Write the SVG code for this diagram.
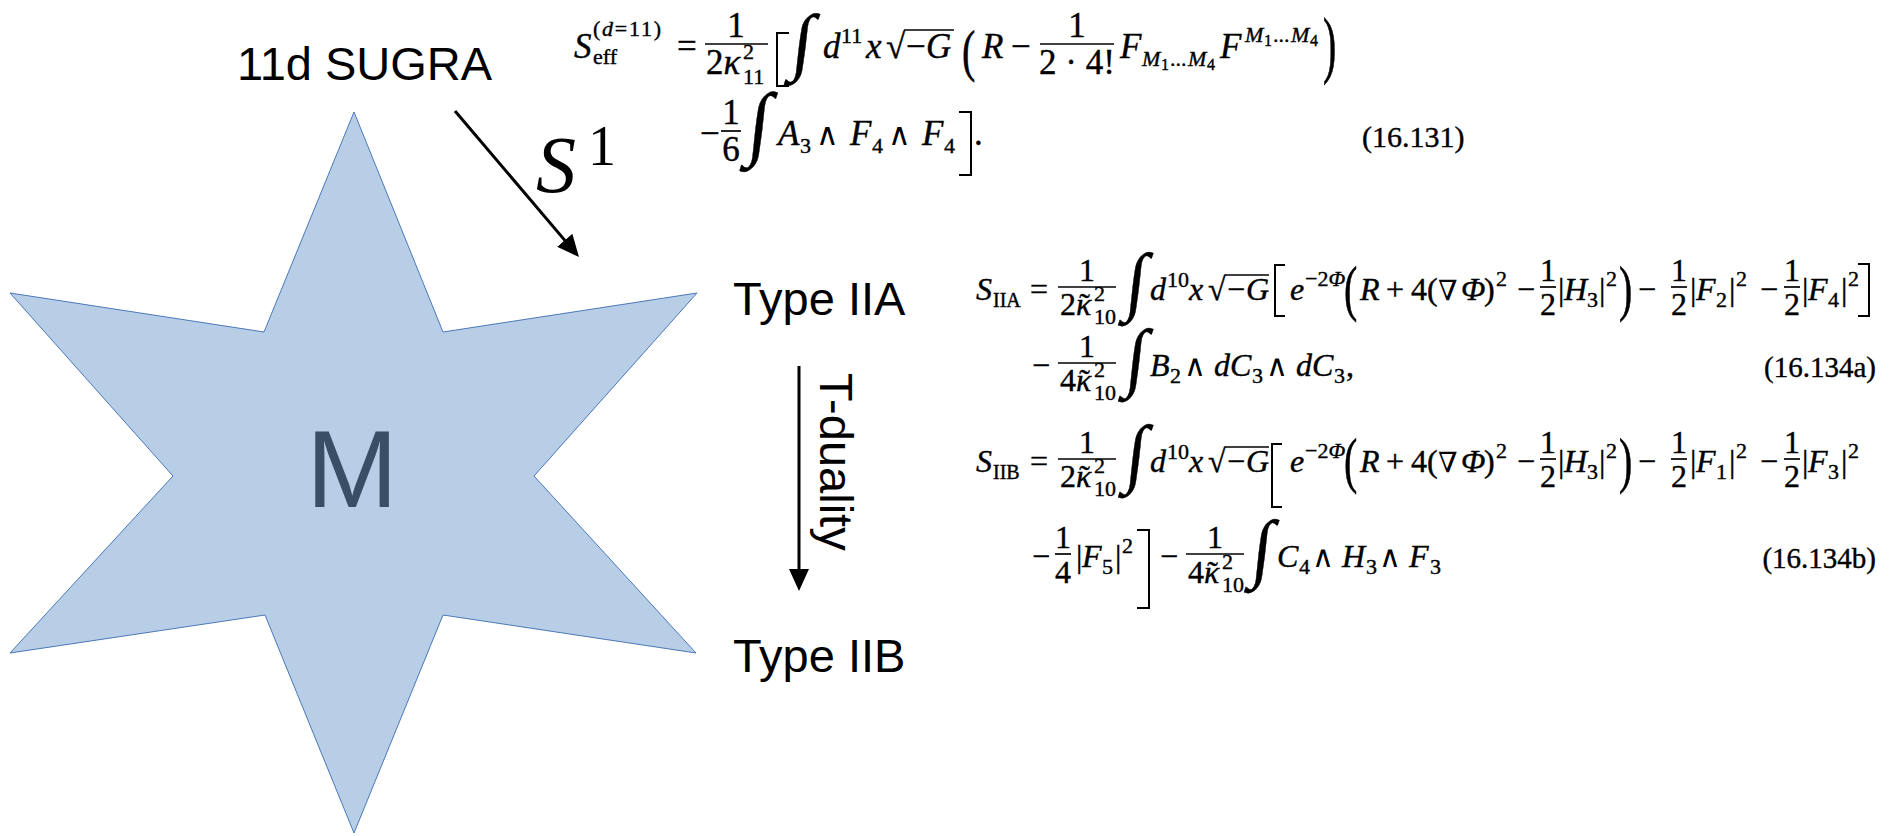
<svg xmlns="http://www.w3.org/2000/svg" width="1894" height="836" viewBox="0 0 1894 836">
<defs>
<style>
.lbl{font-family:"Liberation Sans",Arial,sans-serif;fill:#000}
.m{font-family:"Liberation Serif","Times New Roman","DejaVu Serif",serif;fill:#000;stroke:#000;stroke-width:0.4px}
.i{font-style:italic}
.sy{font-family:"DejaVu Serif","Liberation Serif",serif;fill:#000}
.bar{stroke:#000;stroke-width:1.7;fill:none}
.br{stroke:#000;stroke-width:2;fill:none}
.arr{stroke:#000;stroke-width:3;fill:none;marker-end:url(#ah)}
</style>
<marker id="ah" viewBox="0 0 22 20" refX="12" refY="10" markerWidth="22" markerHeight="20" markerUnits="userSpaceOnUse" orient="auto"><path d="M0,0 L22,10 L0,20 z" fill="#000"/></marker>
</defs>
<rect width="1894" height="836" fill="#fff"/>

<g id="node-m">
<polygon points="354,112 443,332 697,293 534,476 696,653 443,615 354,833 265,615 10,653 173,476 10,293 264,332" fill="#b8cee7" stroke="#4a78b8" stroke-width="1"/>
<text class="lbl" x="352" y="507" font-size="110" text-anchor="middle" style="fill:#3a4e66">M</text>
</g>
<g id="node-sugra"><text class="lbl" x="237" y="80" font-size="47">11d SUGRA</text></g>
<g id="node-iia"><text class="lbl" x="733" y="315" font-size="47">Type IIA</text></g>
<g id="node-iib"><text class="lbl" x="733" y="672" font-size="47">Type IIB</text></g>

<g id="connectors">
<line class="arr" x1="455" y1="111" x2="572.5" y2="249.4"/>
<line class="arr" x1="799" y1="366" x2="799" y2="581"/>
<text class="m i" x="536" y="192" font-size="80" style="stroke-width:0">S</text>
<text class="m" x="588" y="165" font-size="56" style="stroke-width:0">1</text>
<text class="lbl" x="820" y="373" font-size="47" transform="rotate(90 820 373)">T-duality</text>
</g>

<!-- Equation 16.131 -->
<g id="eq-11d" font-size="35">
<text class="m i" x="574" y="58">S</text>
<text class="m" x="593" y="36" font-size="22" textLength="68">(<tspan font-style="italic">d</tspan>=11)</text>
<text class="m" x="593" y="64" font-size="22">eff</text>
<text class="m" x="677" y="58">=</text>
<text class="m" x="736" y="37" text-anchor="middle">1</text>
<line class="bar" x1="705" y1="44" x2="768" y2="44"/>
<text class="m" x="706" y="74">2<tspan font-style="italic">κ</tspan></text>
<text class="m" x="743" y="59" font-size="22">2</text>
<text class="m" x="743" y="84" font-size="22">11</text>
<polyline class="br" points="789,33 777,33 777,86 789,86"/>
<text class="m" font-size="74" transform="matrix(1,0,-0.12,1,790,66)">∫</text>
<text class="m i" x="823" y="58">d</text>
<text class="m" x="841" y="43" font-size="22">11</text>
<text class="m i" x="866" y="58">x</text>
<text class="m" x="886" y="58">√</text>
<line class="bar" x1="904" y1="30" x2="954" y2="30"/>
<text class="m" x="906" y="58">−</text>
<text class="m i" x="926" y="58">G</text>
<text class="m" font-size="40" transform="matrix(1,0,0,1.437,962,69.7)">(</text>
<text class="m i" x="982" y="58">R</text>
<text class="m" x="1011" y="58">−</text>
<text class="m" x="1077" y="37" text-anchor="middle">1</text>
<line class="bar" x1="1040" y1="44" x2="1114" y2="44"/>
<text class="m" x="1077" y="74" text-anchor="middle">2 · 4!</text>
<text class="m i" x="1120" y="58">F</text>
<text class="m i" x="1142" y="66" font-size="22">M</text>
<text class="m" x="1161" y="70" font-size="16">1</text>
<text class="m" x="1170" y="66" font-size="22">...</text>
<text class="m i" x="1188" y="66" font-size="22">M</text>
<text class="m" x="1207" y="70" font-size="16">4</text>
<text class="m i" x="1220" y="58">F</text>
<text class="m i" x="1245" y="42" font-size="22">M</text>
<text class="m" x="1264" y="46" font-size="16">1</text>
<text class="m" x="1273" y="42" font-size="22">...</text>
<text class="m i" x="1291" y="42" font-size="22">M</text>
<text class="m" x="1310" y="46" font-size="16">4</text>
<text class="m" font-size="40" transform="matrix(1,0,0,1.84,1323,68.8)">)</text>
<text class="m" x="700" y="145">−</text>
<text class="m" x="731" y="124" text-anchor="middle">1</text>
<line class="bar" x1="721" y1="131" x2="741" y2="131"/>
<text class="m" x="731" y="161" text-anchor="middle">6</text>
<text class="m" font-size="78" transform="matrix(1,0,-0.12,1.05,746,150)">∫</text>
<text class="m i" x="778" y="145">A</text>
<text class="m" x="800" y="153" font-size="22">3</text>
<text class="sy" x="816" y="145" font-size="31">∧</text>
<text class="m i" x="850" y="145">F</text>
<text class="m" x="872" y="153" font-size="22">4</text>
<text class="sy" x="888" y="145" font-size="31">∧</text>
<text class="m i" x="922" y="145">F</text>
<text class="m" x="944" y="153" font-size="22">4</text>
<polyline class="br" points="959,112 971,112 971,175 959,175"/>
<text class="m" x="974" y="145">.</text>
<text class="m" x="1362" y="147" font-size="30">(16.131)</text>
</g>

<!-- Equation 16.134a -->
<g id="eq-iia" font-size="32">
<text class="m i" x="976" y="300">S</text>
<text class="m" x="993" y="307" font-size="20">IIA</text>
<text class="m" x="1030" y="300">=</text>
<text class="m" x="1087" y="281" text-anchor="middle">1</text>
<line class="bar" x1="1058" y1="287" x2="1116" y2="287"/>
<text class="m" x="1060" y="315">2<tspan font-style="italic">κ</tspan><tspan dx="-12">˜</tspan></text>
<text class="m" x="1094" y="301" font-size="22">2</text>
<text class="m" x="1094" y="324" font-size="22">10</text>
<text class="m" font-size="72" transform="matrix(1,0,-0.12,1.05,1124,306)">∫</text>
<text class="m i" x="1150" y="300">d</text>
<text class="m" x="1167" y="287" font-size="22">10</text>
<text class="m i" x="1189" y="300">x</text>
<text class="m" x="1208" y="300">√</text>
<line class="bar" x1="1225" y1="275" x2="1269" y2="275"/>
<text class="m" x="1227" y="300">−</text>
<text class="m i" x="1246" y="300">G</text>
<polyline class="br" points="1285,265 1275,265 1275,316 1285,316"/>
<text class="m i" x="1290" y="300">e</text>
<text class="m" x="1305" y="286" font-size="22">−2<tspan font-style="italic">Φ</tspan></text>
<text class="m" font-size="40" transform="matrix(1,0,0,1.552,1344,308.8)">(</text>
<text class="m i" x="1360" y="300">R</text>
<text class="m" x="1386" y="300">+</text>
<text class="m" x="1411" y="300">4(</text>
<text class="sy" x="1438" y="300" font-size="28">∇</text>
<text class="m i" x="1461" y="300">Φ</text>
<text class="m" x="1484" y="300">)</text>
<text class="m" x="1496" y="286" font-size="22">2</text>
<text class="m" x="1517" y="300">−</text>
<text class="m" x="1548" y="281" text-anchor="middle">1</text>
<line class="bar" x1="1540" y1="287" x2="1556" y2="287"/>
<text class="m" x="1548" y="315" text-anchor="middle">2</text>
<text class="m" x="1558" y="300">|</text>
<text class="m i" x="1564" y="300">H</text>
<text class="m" x="1587" y="307" font-size="22">3</text>
<text class="m" x="1599" y="300">|</text>
<text class="m" x="1606" y="286" font-size="22">2</text>
<text class="m" font-size="40" transform="matrix(1,0,0,1.552,1619,308.8)">)</text>
<text class="m" x="1638" y="300">−</text>
<text class="m" x="1679" y="281" text-anchor="middle">1</text>
<line class="bar" x1="1671" y1="287" x2="1687" y2="287"/>
<text class="m" x="1679" y="315" text-anchor="middle">2</text>
<text class="m" x="1690" y="300">|</text>
<text class="m i" x="1696" y="300">F</text>
<text class="m" x="1716" y="307" font-size="22">2</text>
<text class="m" x="1729" y="300">|</text>
<text class="m" x="1736" y="286" font-size="22">2</text>
<text class="m" x="1760" y="300">−</text>
<text class="m" x="1792" y="281" text-anchor="middle">1</text>
<line class="bar" x1="1784" y1="287" x2="1800" y2="287"/>
<text class="m" x="1792" y="315" text-anchor="middle">2</text>
<text class="m" x="1802" y="300">|</text>
<text class="m i" x="1808" y="300">F</text>
<text class="m" x="1828" y="307" font-size="22">4</text>
<text class="m" x="1841" y="300">|</text>
<text class="m" x="1848" y="286" font-size="22">2</text>
<polyline class="br" points="1858,264 1869,264 1869,316 1858,316"/>
<text class="m" x="1032" y="376">−</text>
<text class="m" x="1087" y="357" text-anchor="middle">1</text>
<line class="bar" x1="1058" y1="363" x2="1116" y2="363"/>
<text class="m" x="1060" y="391">4<tspan font-style="italic">κ</tspan><tspan dx="-12">˜</tspan></text>
<text class="m" x="1094" y="377" font-size="22">2</text>
<text class="m" x="1094" y="400" font-size="22">10</text>
<text class="m" font-size="72" transform="matrix(1,0,-0.12,1.05,1124,382)">∫</text>
<text class="m i" x="1150" y="376">B</text>
<text class="m" x="1170" y="383" font-size="22">2</text>
<text class="sy" x="1184" y="376" font-size="30">∧</text>
<text class="m i" x="1214" y="376">d</text>
<text class="m i" x="1230" y="376">C</text>
<text class="m" x="1252" y="383" font-size="22">3</text>
<text class="sy" x="1266" y="376" font-size="30">∧</text>
<text class="m i" x="1296" y="376">d</text>
<text class="m i" x="1312" y="376">C</text>
<text class="m" x="1334" y="383" font-size="22">3</text>
<text class="m" x="1346" y="376">,</text>
<text class="m" x="1876" y="377" font-size="29" text-anchor="end">(16.134a)</text>
</g>

<!-- Equation 16.134b -->
<g id="eq-iib" font-size="32">
<text class="m i" x="976" y="472">S</text>
<text class="m" x="993" y="479" font-size="20">IIB</text>
<text class="m" x="1030" y="472">=</text>
<text class="m" x="1087" y="453" text-anchor="middle">1</text>
<line class="bar" x1="1058" y1="459" x2="1116" y2="459"/>
<text class="m" x="1060" y="487">2<tspan font-style="italic">κ</tspan><tspan dx="-12">˜</tspan></text>
<text class="m" x="1094" y="473" font-size="22">2</text>
<text class="m" x="1094" y="496" font-size="22">10</text>
<text class="m" font-size="72" transform="matrix(1,0,-0.12,1.05,1124,478)">∫</text>
<text class="m i" x="1150" y="472">d</text>
<text class="m" x="1167" y="459" font-size="22">10</text>
<text class="m i" x="1189" y="472">x</text>
<text class="m" x="1208" y="472">√</text>
<line class="bar" x1="1225" y1="447" x2="1269" y2="447"/>
<text class="m" x="1227" y="472">−</text>
<text class="m i" x="1246" y="472">G</text>
<polyline class="br" points="1282,444 1272,444 1272,507 1282,507"/>
<text class="m i" x="1290" y="472">e</text>
<text class="m" x="1305" y="458" font-size="22">−2<tspan font-style="italic">Φ</tspan></text>
<text class="m" font-size="40" transform="matrix(1,0,0,1.552,1344,480.8)">(</text>
<text class="m i" x="1360" y="472">R</text>
<text class="m" x="1386" y="472">+</text>
<text class="m" x="1411" y="472">4(</text>
<text class="sy" x="1438" y="472" font-size="28">∇</text>
<text class="m i" x="1461" y="472">Φ</text>
<text class="m" x="1484" y="472">)</text>
<text class="m" x="1496" y="458" font-size="22">2</text>
<text class="m" x="1517" y="472">−</text>
<text class="m" x="1548" y="453" text-anchor="middle">1</text>
<line class="bar" x1="1540" y1="459" x2="1556" y2="459"/>
<text class="m" x="1548" y="487" text-anchor="middle">2</text>
<text class="m" x="1558" y="472">|</text>
<text class="m i" x="1564" y="472">H</text>
<text class="m" x="1587" y="479" font-size="22">3</text>
<text class="m" x="1599" y="472">|</text>
<text class="m" x="1606" y="458" font-size="22">2</text>
<text class="m" font-size="40" transform="matrix(1,0,0,1.552,1619,480.8)">)</text>
<text class="m" x="1638" y="472">−</text>
<text class="m" x="1679" y="453" text-anchor="middle">1</text>
<line class="bar" x1="1671" y1="459" x2="1687" y2="459"/>
<text class="m" x="1679" y="487" text-anchor="middle">2</text>
<text class="m" x="1690" y="472">|</text>
<text class="m i" x="1696" y="472">F</text>
<text class="m" x="1716" y="479" font-size="22">1</text>
<text class="m" x="1729" y="472">|</text>
<text class="m" x="1736" y="458" font-size="22">2</text>
<text class="m" x="1760" y="472">−</text>
<text class="m" x="1792" y="453" text-anchor="middle">1</text>
<line class="bar" x1="1784" y1="459" x2="1800" y2="459"/>
<text class="m" x="1792" y="487" text-anchor="middle">2</text>
<text class="m" x="1802" y="472">|</text>
<text class="m i" x="1808" y="472">F</text>
<text class="m" x="1828" y="479" font-size="22">3</text>
<text class="m" x="1841" y="472">|</text>
<text class="m" x="1848" y="458" font-size="22">2</text>
<text class="m" x="1032" y="567">−</text>
<text class="m" x="1063" y="548" text-anchor="middle">1</text>
<line class="bar" x1="1055" y1="554" x2="1071" y2="554"/>
<text class="m" x="1063" y="583" text-anchor="middle">4</text>
<text class="m" x="1076" y="567">|</text>
<text class="m i" x="1082" y="567">F</text>
<text class="m" x="1102" y="574" font-size="22">5</text>
<text class="m" x="1115" y="567">|</text>
<text class="m" x="1122" y="553" font-size="22">2</text>
<polyline class="br" points="1137,530 1149,530 1149,608 1137,608"/>
<text class="m" x="1160" y="567">−</text>
<text class="m" x="1215" y="548" text-anchor="middle">1</text>
<line class="bar" x1="1186" y1="554" x2="1244" y2="554"/>
<text class="m" x="1188" y="583">4<tspan font-style="italic">κ</tspan><tspan dx="-12">˜</tspan></text>
<text class="m" x="1222" y="569" font-size="22">2</text>
<text class="m" x="1222" y="592" font-size="22">10</text>
<text class="m" font-size="72" transform="matrix(1,0,-0.12,1.05,1250,573)">∫</text>
<text class="m i" x="1277" y="567">C</text>
<text class="m" x="1299" y="574" font-size="22">4</text>
<text class="sy" x="1312" y="567" font-size="30">∧</text>
<text class="m i" x="1342" y="567">H</text>
<text class="m" x="1366" y="574" font-size="22">3</text>
<text class="sy" x="1379" y="567" font-size="30">∧</text>
<text class="m i" x="1409" y="567">F</text>
<text class="m" x="1430" y="574" font-size="22">3</text>
<text class="m" x="1876" y="568" font-size="29" text-anchor="end">(16.134b)</text>
</g>
</svg>
